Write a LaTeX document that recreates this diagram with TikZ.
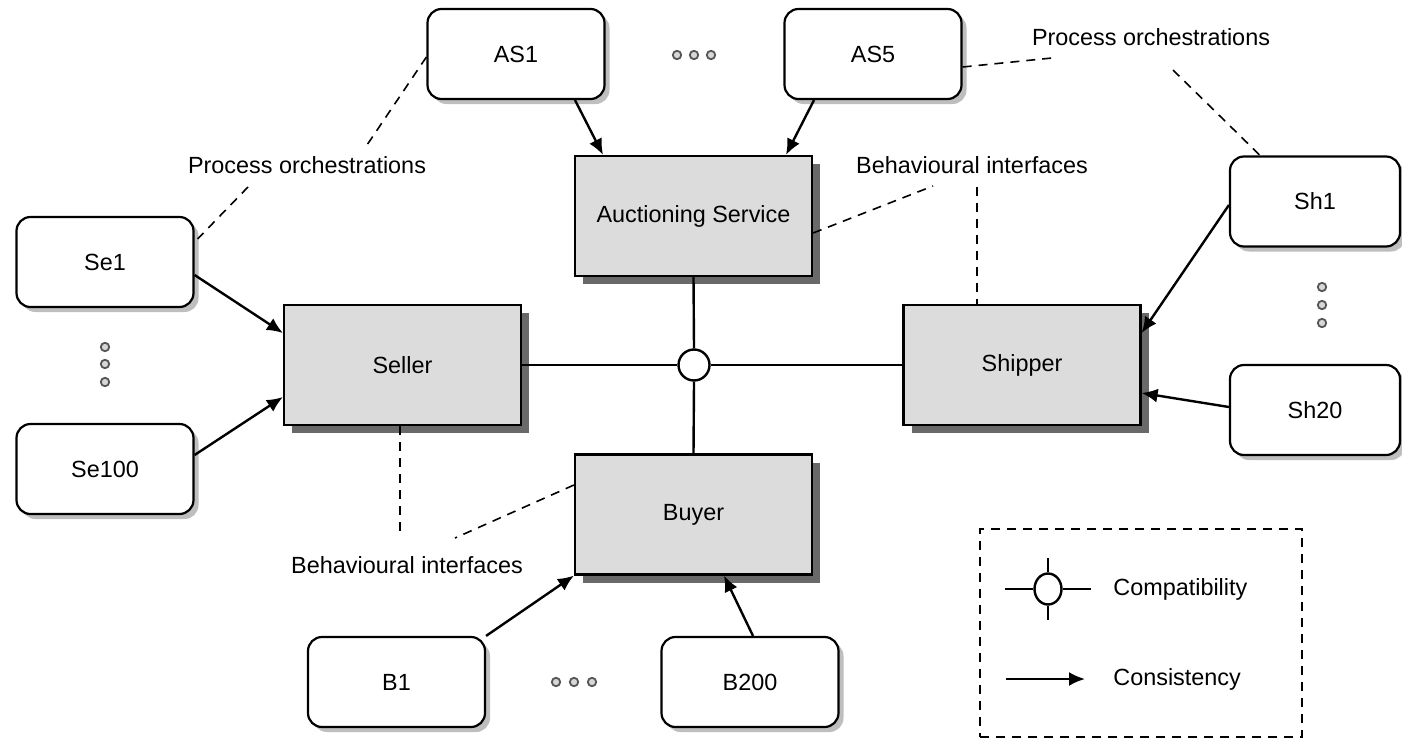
\documentclass[tikz,border=0pt]{standalone}
\usepackage{fontspec}
\setmainfont{Liberation Sans}
\usetikzlibrary{calc,arrows.meta,shadows,shapes.geometric}
\definecolor{boxgray}{RGB}{220,220,220}
\definecolor{darkshadow}{RGB}{105,105,105}
\definecolor{lightshadow}{RGB}{190,190,190}
\definecolor{dotgray}{RGB}{85,85,85}
\definecolor{dotfill}{RGB}{215,215,215}
\tikzset{
  rbox/.style={draw, line width=1.1pt, rounded corners=7pt, fill=white,
    minimum width=88.5pt, minimum height=45pt, inner sep=0pt,
    drop shadow={shadow xshift=2.5pt, shadow yshift=-2.5pt, fill=lightshadow, opacity=1}},
  gbox/.style={draw, line width=1.1pt, fill=boxgray,
    minimum width=118.5pt, minimum height=60pt, inner sep=0pt,
    drop shadow={shadow xshift=4pt, shadow yshift=-4pt, fill=darkshadow, opacity=1}},
  lbl/.style={inner sep=0pt},
  cons/.style={line width=1.2pt, -{Latex[length=8pt,width=7pt]}},
  comp/.style={line width=1.2pt},
  note/.style={line width=0.8pt, dash pattern=on 4.5pt off 3.5pt},
  edot/.style={circle, draw=dotgray, fill=dotfill, line width=0.9pt, minimum size=4.2pt, inner sep=0pt},
}
\begin{document}
\begin{tikzpicture}[x=0.5pt, y=-0.5pt, font=\fontsize{11.7}{14}\selectfont]
\useasboundingbox (0,0) rectangle (1402,739);
% gray boxes
\node[gbox] (auc) at (693.5,216) {Auctioning Service};
\node[gbox] (sel) at (402.5,365) {Seller};
\node[gbox] (shi) at (1022,365) {Shipper};
\node[gbox] (buy) at (693.5,514.5) {Buyer};
% rounded boxes
\node[rbox] (as1) at (516,54) {AS1};
\node[rbox] (as5) at (873,54) {AS5};
\node[rbox] (se1) at (105,262) {Se1};
\node[rbox] (se100) at (105,469) {Se100};
\node[rbox, minimum width=85pt] (sh1) at (1315,201.5) {Sh1};
\node[rbox, minimum width=85pt] (sh20) at (1315,410) {Sh20};
\node[rbox] (b1) at (396.5,682) {B1};
\node[rbox] (b200) at (750,682) {B200};
% dots
\foreach \x/\n in {677/t1,694/t2,711/t3} \node[edot] (\n) at (\x,55) {};
\foreach \x/\n in {556/b1d,574/b2d,592/b3d} \node[edot] (\n) at (\x,682) {};
\foreach \y/\n in {347/l1,364/l2,382/l3} \node[edot] (\n) at (105,\y) {};
\foreach \y/\n in {287/r1,305/r2,323/r3} \node[edot] (\n) at (1322,\y) {};
% compatibility hub
\node[circle, draw, line width=1.2pt, fill=white, minimum size=15.5pt, inner sep=0pt] (hub) at (694,365) {};
\draw[comp] (sel.east) -- (hub.west);
\draw[comp] (hub.east) -- (shi.west);
\draw[comp] (auc.south) -- (hub.north);
\draw[comp] (hub.south) -- (buy.north);
% consistency arrows
\draw[cons] ($(as1.south)+(59,0)$) -- ($(auc.north)+(-90.5,0)$);
\draw[cons] ($(as5.south)+(-59,0)$) -- ($(auc.north)+(92.5,0)$);
\draw[cons] ($(se1.east)+(0,13)$) -- ($(sel.west)+(0,-32)$);
\draw[cons] ($(se100.east)+(0,-14)$) -- ($(sel.west)+(0,32)$);
\draw[cons] ($(sh1.west)+(0,3.5)$) -- ($(shi.east)+(0,-32)$);
\draw[cons] ($(sh20.west)+(0,-3)$) -- ($(shi.east)+(0,28)$);
\draw[cons] (b1.north east) -- (buy.south west);
\draw[cons] ($(b200.north)+(3,0)$) -- ($(buy.south)+(30.5,0)$);
% labels
\node[lbl] (po1) at (307,165) {Process orchestrations};
\node[lbl] (po2) at (1151,37) {Process orchestrations};
\node[lbl] (bi1) at (972,165) {Behavioural interfaces};
\node[lbl] (bi2) at (407,565) {Behavioural interfaces};
% dashed annotation lines
\draw[note] ($(as1.west)+(0,3)$) -- ($(po1)+(60,-20)$);
\draw[note] ($(po1)+(-59,22)$) -- ($(se1.east)+(3,-23)$);
\draw[note] ($(as5.east)+(0,13)$) -- ($(po2)+(-99,21)$);
\draw[note] ($(po2)+(22,33)$) -- ($(sh1.north)+(-55,0)$);
\draw[note] ($(auc.east)+(0,17)$) -- ($(bi1)+(-39,21)$);
\draw[note] ($(bi1)+(5,22)$) -- ($(shi.north)+(-45,0)$);
\draw[note] ($(sel.south)+(-2.5,0)$) -- ($(bi2)+(-7,-27)$);
\draw[note] ($(buy.west)+(0,-29.5)$) -- ($(bi2)+(48,-27)$);
% legend
\node[draw, line width=0.8pt, dash pattern=on 4.5pt off 3.5pt, minimum width=161pt, minimum height=104pt, inner sep=0pt] (legend) at (1141,633) {};
\node[ellipse, draw, line width=1.2pt, fill=white, minimum width=13.5pt, minimum height=15.5pt, inner sep=0pt] (lc) at (1048,589) {};
\draw[comp] (lc.west) -- ++(-28.5,0);
\draw[comp] (lc.east) -- ++(28.5,0);
\draw[comp] (lc.north) -- ++(0,-14.5);
\draw[comp] (lc.south) -- ++(0,14.5);
\node[lbl, anchor=west] (lcomp) at (1113,589) {Compatibility};
\coordinate (la) at (1006,679);
\coordinate (lb) at (1085,679);
\draw[cons] (la) -- (lb);
\node[lbl, anchor=west] (lcons) at (1113,679) {Consistency};
\end{tikzpicture}
\end{document}
